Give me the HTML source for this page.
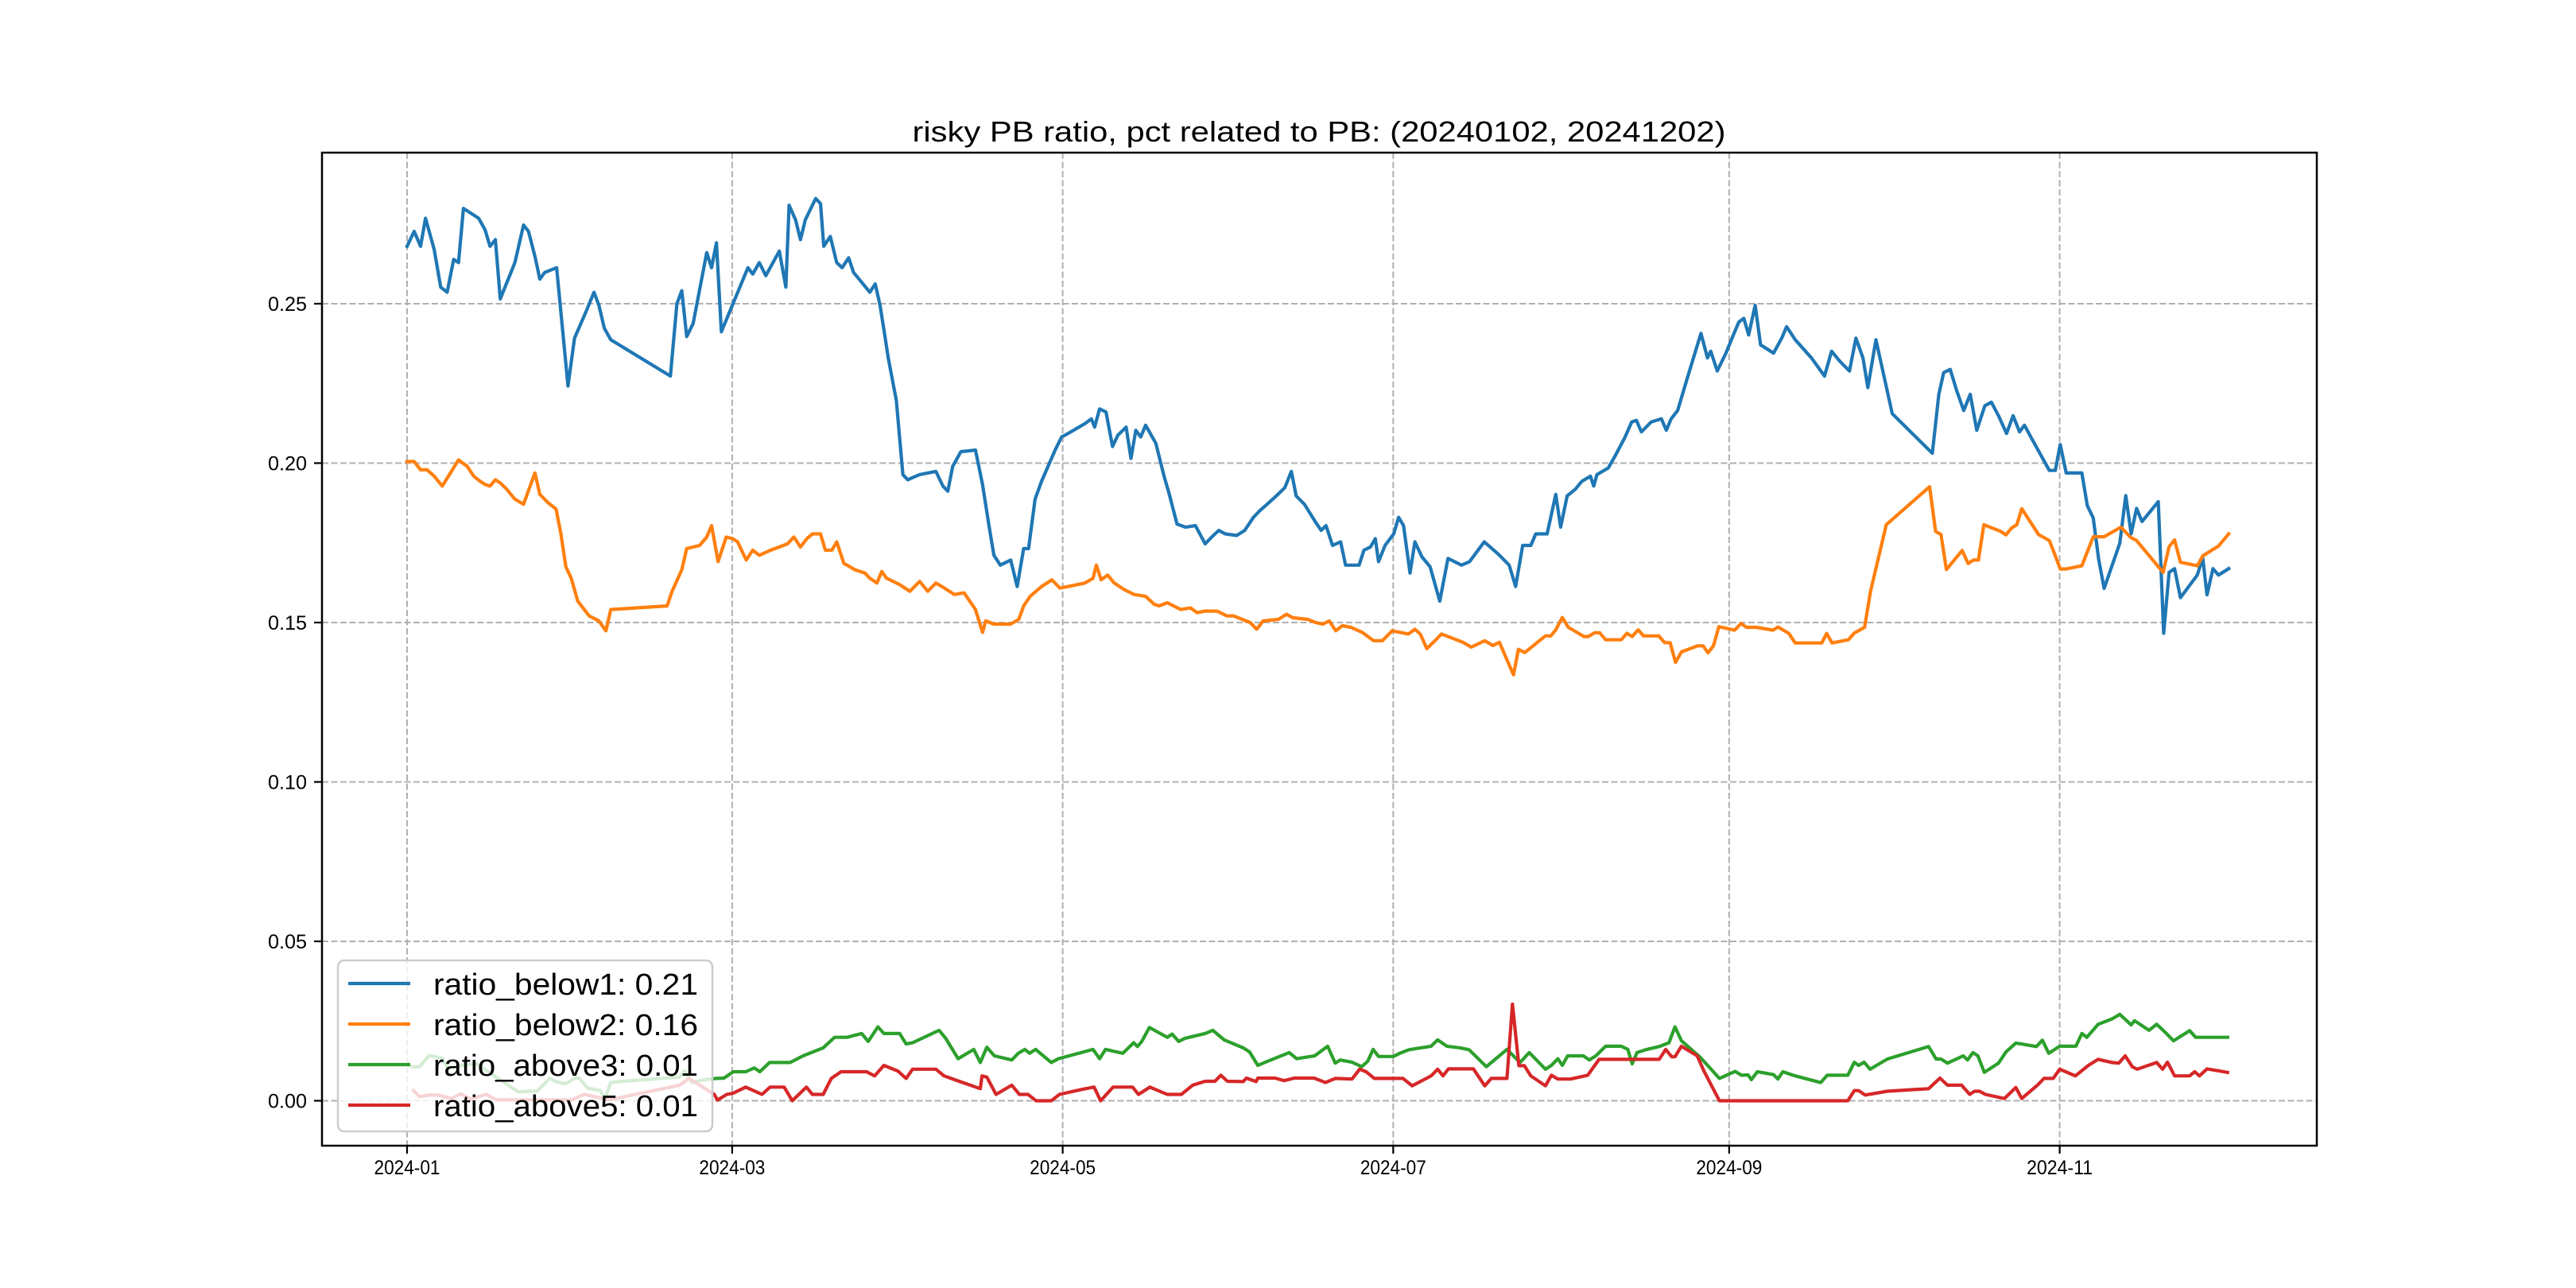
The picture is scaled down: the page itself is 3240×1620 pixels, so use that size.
<!DOCTYPE html>
<html><head><meta charset="utf-8"><style>
html,body{margin:0;padding:0;background:#fff;}
svg{display:block;}
text{font-family:"Liberation Sans","WenQuanYi Zen Hei",sans-serif;fill:#000;}
</style></head><body>
<svg id="chart" width="3240" height="1620" viewBox="0 0 3240 1620" xmlns="http://www.w3.org/2000/svg">
<rect x="0" y="0" width="3240" height="1620" fill="#fff"/>
<g id="grid"></g>
<g id="series"></g>
<rect x="405" y="192" width="2509" height="1249" fill="none" stroke="#000" stroke-width="2.5"/>
<g id="xticks"></g>
<g id="yticks"></g>
<text x="1659" y="178" font-size="36" text-anchor="middle" textLength="1023" lengthAdjust="spacingAndGlyphs">risky PB ratio, pct related to PB: (20240102, 20241202)</text>
<g id="legend"></g>
</svg>
<script>
const xTickDays=[0,60,121,182,244,305];
const xTickLabels=["2024-01","2024-03","2024-05","2024-07","2024-09","2024-11"];
const yTickVals=[0,0.05,0.10,0.15,0.20,0.25];
const yTickLabels=["0.00","0.05","0.10","0.15","0.20","0.25"];
const seriesNames=["ratio_below1: 0.21","ratio_below2: 0.16","ratio_above3: 0.01","ratio_above5: 0.01"];

const blueDays=[0,1.3,2.5,3.4,5,6.2,7.4,8.6,9.5,10.4,13.2,14.4,15.3,16.3,17.2,19.9,21.5,22.4,23.6,24.5,25.4,27.6,29.7,30.9,33.0,34.5,35.4,36.4,37.6,48.6,49.8,50.7,51.6,52.8,55.3,56.2,57.1,58.0,62.9,63.8,65.0,66.2,68.7,69.9,70.5,71.7,72.6,73.5,75.4,76.3,76.9,78.1,79.3,80.3,81.5,82.4,83.9,85.4,86.4,87.3,88.2,88.8,90.3,91.5,92.4,94.6,97.6,98.9,99.8,100.7,102.2,104.9,106.2,107.4,108.3,109.5,111.4,112.6,113.8,114.7,115.9,117.1,119.6,120.8,122.0,125.1,126.3,126.9,127.8,129.0,130.2,131.2,132.7,133.6,134.5,135.4,136.3,138.2,139.7,140.6,142.1,143.7,145.5,147.3,148.5,149.8,151.0,153.1,154.6,156.2,157.4,160.1,162.0,163.2,164.1,165.6,167.7,168.7,169.6,170.8,172.3,173.2,175.7,176.6,177.8,178.7,179.3,180.5,182.1,183.0,183.9,185.1,186.0,187.3,188.8,190.6,192.1,194.6,196.1,198.8,201.3,203.4,204.6,205.9,207.4,208.3,210.4,212.0,212.9,214.1,215.6,216.8,218.4,219.0,219.6,221.7,222.9,224.8,226.0,226.9,227.8,229.6,231.5,232.4,233.3,234.5,236.3,238.8,240.0,240.6,241.8,243.4,244.9,245.8,246.7,247.6,248.8,249.8,252.2,253.7,254.6,256.2,259.2,261.6,262.9,264.4,266.2,267.4,268.7,269.6,271.1,274.1,281.5,282.7,283.6,284.8,286.0,287.3,288.5,289.7,291.2,292.4,293.7,295.2,296.4,297.6,298.5,299.7,303.1,304.2,305.1,306.2,309.1,310.1,311.2,312.2,313.2,316.1,317.2,318.2,319.2,320.2,323.2,324.2,325.2,326.2,327.3,330.4,331.4,332.2,333.3,334.3,336.2];
const blueVals=[0.2680,0.2727,0.2680,0.2768,0.2670,0.2552,0.2536,0.2639,0.2629,0.2799,0.2768,0.2732,0.2680,0.2701,0.2515,0.2629,0.2747,0.2727,0.2649,0.2577,0.2598,0.2613,0.2242,0.2392,0.2474,0.2536,0.2495,0.2423,0.2387,0.2273,0.2500,0.2541,0.2397,0.2438,0.2660,0.2613,0.2691,0.2412,0.2613,0.2593,0.2629,0.2588,0.2665,0.2552,0.2809,0.2763,0.2701,0.2763,0.2830,0.2814,0.2680,0.2711,0.2629,0.2613,0.2644,0.2598,0.2567,0.2536,0.2562,0.2495,0.2397,0.2330,0.2196,0.1964,0.1948,0.1964,0.1974,0.1928,0.1912,0.1990,0.2036,0.2041,0.1933,0.1804,0.1711,0.1680,0.1696,0.1613,0.1732,0.1732,0.1887,0.1943,0.2041,0.2082,0.2093,0.2124,0.2139,0.2113,0.2170,0.2160,0.2052,0.2088,0.2113,0.2015,0.2103,0.2082,0.2119,0.2062,0.1959,0.1907,0.1809,0.1799,0.1804,0.1747,0.1768,0.1789,0.1778,0.1773,0.1789,0.1830,0.1851,0.1892,0.1923,0.1974,0.1897,0.1871,0.1814,0.1789,0.1804,0.1742,0.1753,0.1680,0.1680,0.1727,0.1737,0.1763,0.1691,0.1742,0.1778,0.1830,0.1804,0.1655,0.1753,0.1706,0.1675,0.1567,0.1701,0.1680,0.1691,0.1753,0.1716,0.1680,0.1613,0.1742,0.1742,0.1778,0.1778,0.1902,0.1799,0.1897,0.1918,0.1943,0.1959,0.1928,0.1964,0.1985,0.2021,0.2082,0.2129,0.2134,0.2098,0.2129,0.2139,0.2103,0.2139,0.2165,0.2268,0.2407,0.2330,0.2351,0.2289,0.2345,0.2407,0.2443,0.2454,0.2402,0.2495,0.2371,0.2345,0.2392,0.2428,0.2387,0.2330,0.2273,0.2351,0.2320,0.2289,0.2392,0.2330,0.2237,0.2387,0.2155,0.2031,0.2216,0.2284,0.2294,0.2227,0.2165,0.2216,0.2103,0.2180,0.2191,0.2149,0.2093,0.2149,0.2098,0.2119,0.2081,0.1977,0.1977,0.2058,0.1969,0.1969,0.1867,0.1828,0.1699,0.1607,0.1749,0.1898,0.1778,0.1858,0.1817,0.1879,0.1466,0.1657,0.1669,0.1578,0.1649,0.1703,0.1587,0.1669,0.1649,0.1669];

const orangeDays=[0,1.3,2.5,3.7,5,6.5,8.0,9.5,11.1,12.3,13.5,14.4,15.3,16.3,17.2,18.4,19.9,21.5,23.6,24.5,26.0,27.5,28.4,29.3,30.3,31.5,33.6,35.4,36.7,37.6,48.0,48.9,50.7,51.6,54.0,55.3,56.2,57.4,58.9,60.1,61.0,62.6,63.8,65.0,67.1,68.7,70.2,71.4,72.6,73.8,74.8,76.3,77.2,78.4,79.3,80.6,82.7,84.5,85.4,86.7,87.6,88.5,90.9,92.8,94.6,96.1,97.6,99.2,101.0,102.8,104.9,106.2,106.8,108.3,111.4,112.9,113.8,115.0,117.1,119.0,120.5,122.0,125.1,126.6,127.2,128.1,129.3,130.5,132.4,134.2,136.3,137.9,138.8,140.3,142.8,144.6,145.8,147.3,149.5,151.3,152.5,155.6,156.8,158.0,160.8,162.3,163.5,166.2,167.7,169.0,170.2,171.4,172.6,174.2,176.3,178.4,180.0,181.8,183.3,184.8,186.0,187.0,188.2,189.7,190.9,193.4,194.9,196.4,198.9,200.4,201.6,204.2,205.1,206.3,210.1,211.1,212.0,213.2,214.3,217.2,218.0,219.2,220.1,221.2,224.1,225.1,226.1,227.2,228.2,231.0,232.1,233.1,234.1,235.2,238.2,239.2,240.1,241.1,242.1,245.0,246.2,247.2,249.0,252.1,253.0,255.0,256.2,261.1,262.0,263.0,266.0,267.1,269.0,270.1,273.0,281.0,282.1,283.1,284.1,287.0,288.1,289.1,290.0,291.0,294.1,295.1,296.1,297.1,298.0,301.1,303.1,304.1,305.1,306.2,309.1,311.2,313.2,316.3,318.1,319.2,324.1,325.2,326.2,327.3,330.4,331.4,334.3,336.2];
const orangeVals=[0.2005,0.2005,0.1979,0.1979,0.1959,0.1928,0.1969,0.2010,0.1990,0.1959,0.1943,0.1933,0.1928,0.1948,0.1938,0.1918,0.1887,0.1871,0.1969,0.1902,0.1876,0.1856,0.1778,0.1675,0.1639,0.1567,0.1521,0.1505,0.1474,0.1541,0.1552,0.1598,0.1665,0.1732,0.1742,0.1768,0.1804,0.1691,0.1768,0.1763,0.1753,0.1696,0.1727,0.1711,0.1727,0.1737,0.1747,0.1768,0.1737,0.1763,0.1778,0.1778,0.1727,0.1727,0.1753,0.1686,0.1665,0.1655,0.1639,0.1624,0.1660,0.1639,0.1619,0.1598,0.1629,0.1598,0.1624,0.1608,0.1588,0.1593,0.1541,0.1469,0.1505,0.1495,0.1495,0.1510,0.1552,0.1582,0.1613,0.1634,0.1608,0.1613,0.1624,0.1639,0.1680,0.1634,0.1649,0.1624,0.1603,0.1588,0.1582,0.1557,0.1552,0.1562,0.1541,0.1546,0.1531,0.1536,0.1536,0.1521,0.1521,0.1500,0.1479,0.1505,0.1510,0.1526,0.1515,0.1510,0.1500,0.1495,0.1505,0.1474,0.1490,0.1485,0.1469,0.1443,0.1443,0.1474,0.1469,0.1464,0.1479,0.1464,0.1418,0.1443,0.1464,0.1448,0.1438,0.1423,0.1443,0.1428,0.1438,0.1336,0.1416,0.1406,0.1458,0.1458,0.1477,0.1516,0.1485,0.1456,0.1456,0.1468,0.1468,0.1446,0.1446,0.1466,0.1456,0.1477,0.1458,0.1458,0.1437,0.1437,0.1375,0.1408,0.1427,0.1427,0.1405,0.1427,0.1487,0.1476,0.1497,0.1485,0.1485,0.1476,0.1486,0.1466,0.1436,0.1436,0.1466,0.1436,0.1446,0.1467,0.1485,0.1598,0.1807,0.1926,0.1786,0.1776,0.1666,0.1726,0.1685,0.1696,0.1696,0.1807,0.1786,0.1775,0.1796,0.1807,0.1857,0.1776,0.1757,0.1714,0.1668,0.1668,0.1678,0.1769,0.1769,0.1799,0.1767,0.1757,0.1657,0.1738,0.1759,0.1689,0.1678,0.1709,0.1740,0.1778];

const greenDays=[0.9,2.3,4.1,6.4,7.6,10.5,12.9,14.6,18.7,20.5,22.4,24.0,26.3,27.5,29.2,31.0,31.8,33.3,35.7,36.5,37.6,39.7,50.3,51.2,52.6,54.9,57.0,58.5,60.2,62.5,64.1,65.1,66.9,70.7,73.1,76.8,78.9,81.2,83.9,85.1,86.9,88.0,90.9,92.1,93.3,98.2,99.4,101.7,104.6,105.8,107.0,108.4,111.6,112.8,114.0,114.9,116.0,118.9,120.2,126.6,127.8,128.9,132.1,134.1,134.8,135.6,137.0,140.3,141.2,142.4,143.6,147.3,148.7,150.8,154.3,155.5,157.0,158.4,162.8,164.2,167.5,169.9,171.3,172.2,174.4,176.2,177.3,178.3,179.3,182.0,183.2,184.9,189.0,190.2,191.9,194.3,196.0,198.4,199.2,203.0,205.4,207.1,210.1,211.2,212.4,213.2,214.2,217.1,218.2,219.4,221.2,224.1,225.3,226.1,227.0,228.8,231.1,232.9,234.0,235.2,238.7,242.2,245.1,246.3,247.5,248.1,249.2,252.2,253.0,253.9,256.2,260.9,262.1,265.9,267.1,267.9,268.9,270.0,273.2,280.8,282.2,283.1,284.3,287.2,288.0,289.0,289.9,291.1,293.7,295.1,296.9,300.7,301.8,303.0,305.0,308.0,309.1,310.0,312.1,314.7,316.1,318.2,318.8,321.5,322.9,324.6,326.0,329.0,330.1,336.0];
const greenVals=[0.0107,0.0107,0.0142,0.0134,0.0103,0.0112,0.0116,0.0095,0.0049,0.0028,0.0030,0.0030,0.0070,0.0060,0.0053,0.0071,0.0070,0.0040,0.0032,0.0007,0.0057,0.0061,0.0074,0.0093,0.0057,0.0066,0.0070,0.0071,0.0091,0.0091,0.0103,0.0091,0.0120,0.0120,0.0141,0.0166,0.0199,0.0199,0.0211,0.0186,0.0232,0.0211,0.0211,0.0178,0.0182,0.0221,0.0196,0.0132,0.0161,0.0120,0.0168,0.0141,0.0128,0.0149,0.0161,0.0149,0.0161,0.0120,0.0132,0.0161,0.0132,0.0161,0.0149,0.0182,0.0170,0.0186,0.0230,0.0199,0.0209,0.0186,0.0196,0.0211,0.0221,0.0191,0.0166,0.0153,0.0111,0.0121,0.0151,0.0132,0.0141,0.0171,0.0118,0.0128,0.0121,0.0107,0.0124,0.0161,0.0139,0.0139,0.0149,0.0160,0.0171,0.0191,0.0171,0.0166,0.0160,0.0120,0.0107,0.0161,0.0120,0.0151,0.0099,0.0111,0.0132,0.0111,0.0141,0.0141,0.0128,0.0141,0.0171,0.0171,0.0161,0.0116,0.0151,0.0161,0.0170,0.0182,0.0232,0.0188,0.0136,0.0070,0.0092,0.0080,0.0081,0.0066,0.0091,0.0082,0.0068,0.0091,0.0078,0.0057,0.0080,0.0080,0.0121,0.0111,0.0121,0.0099,0.0131,0.0170,0.0131,0.0131,0.0118,0.0141,0.0128,0.0151,0.0141,0.0089,0.0118,0.0153,0.0181,0.0170,0.0190,0.0149,0.0171,0.0171,0.0211,0.0199,0.0240,0.0257,0.0271,0.0238,0.0251,0.0221,0.0240,0.0213,0.0188,0.0220,0.0199,0.0199];

const redDays=[1.2,2.3,4.1,5.8,8.2,9.9,11.7,14.6,16.4,30.4,32.7,37.4,42.1,50.3,52.0,56.7,57.3,59.0,60.2,62.5,65.5,67.0,69.6,71.1,73.7,74.8,76.8,78.3,80.1,84.8,86.3,88.0,90.6,92.1,93.3,97.6,99.1,101.9,105.8,106.1,107.0,108.7,111.6,113.0,114.6,116.1,118.9,120.4,124.9,126.8,128.0,130.3,133.9,135.0,137.1,140.3,142.9,145.0,147.3,149.1,150.2,151.4,154.3,154.9,156.7,157.0,160.2,161.9,163.7,167.4,169.5,171.3,174.4,175.8,177.0,178.5,183.8,185.5,189.0,190.2,191.2,192.2,196.8,198.9,200.1,203.0,204.0,205.2,206.2,207.4,210.1,211.2,212.4,214.7,217.9,220.0,231.1,232.3,233.4,234.0,235.2,238.1,239.3,242.2,265.9,267.1,267.9,269.1,273.2,280.8,282.9,284.3,286.9,288.4,289.3,290.2,291.3,294.8,296.9,298.0,300.9,302.1,303.8,305.0,307.9,310.3,312.1,314.7,315.9,317.1,318.4,319.3,322.9,324.0,324.9,326.2,329.0,329.9,330.8,332.2,336.0];
const redVals=[0.0032,0.0013,0.0018,0.0018,0.0007,0.0022,0.0005,0.0020,0.0003,0.0003,0.0020,0.0003,0.0020,0.0049,0.0070,0.0020,0.0002,0.0020,0.0024,0.0043,0.0020,0.0043,0.0043,0.0000,0.0043,0.0020,0.0020,0.0070,0.0091,0.0091,0.0078,0.0111,0.0093,0.0070,0.0099,0.0099,0.0078,0.0061,0.0038,0.0078,0.0074,0.0020,0.0049,0.0020,0.0020,0.0000,0.0000,0.0020,0.0037,0.0043,0.0000,0.0043,0.0043,0.0020,0.0043,0.0020,0.0020,0.0049,0.0061,0.0061,0.0080,0.0061,0.0060,0.0071,0.0060,0.0071,0.0071,0.0063,0.0071,0.0071,0.0057,0.0070,0.0068,0.0099,0.0091,0.0070,0.0070,0.0047,0.0078,0.0099,0.0078,0.0100,0.0100,0.0047,0.0070,0.0070,0.0303,0.0110,0.0110,0.0078,0.0047,0.0080,0.0068,0.0068,0.0080,0.0130,0.0130,0.0161,0.0138,0.0138,0.0171,0.0141,0.0095,0.0000,0.0000,0.0032,0.0032,0.0018,0.0030,0.0038,0.0071,0.0049,0.0049,0.0020,0.0030,0.0030,0.0020,0.0007,0.0042,0.0007,0.0049,0.0070,0.0070,0.0099,0.0078,0.0111,0.0130,0.0120,0.0118,0.0141,0.0107,0.0099,0.0120,0.0099,0.0121,0.0078,0.0078,0.0091,0.0078,0.0100,0.0089];

const colors=["#1f77b4","#ff7f0e","#2ca02c","#d62728"];
const NS="http://www.w3.org/2000/svg";
const X0=405,X1=2914,Y0=192,Y1=1441;
function xScale(d){return 512+d*6.815;}
function yScale(v){return 1384.5-v*4010;}
function mk(tag,attrs,parent){const e=document.createElementNS(NS,tag);for(const k in attrs)e.setAttribute(k,attrs[k]);parent.appendChild(e);return e;}

const grid=document.getElementById('grid');
const xt=document.getElementById('xticks');
const yt=document.getElementById('yticks');
xTickDays.forEach((d,i)=>{
  const x=xScale(d);
  const g=mk('line',{x1:x,x2:x,y1:Y0,y2:Y1,stroke:'#b0b0b0','stroke-width':2,'stroke-dasharray':'8,3.5'},grid);
  
  
  const t=mk('line',{x1:x,x2:x,y1:Y1,y2:Y1+10,stroke:'#000','stroke-width':2.2},xt);
  
  
  const l=mk('text',{x:x,y:1477,'font-size':25,'text-anchor':'middle',textLength:83,lengthAdjust:'spacingAndGlyphs'},xt);
  l.textContent=xTickLabels[i];
  
  
});
yTickVals.forEach((v,i)=>{
  const y=yScale(v);
  const g=mk('line',{x1:X0,x2:X1,y1:y,y2:y,stroke:'#b0b0b0','stroke-width':2,'stroke-dasharray':'8,3.5'},grid);
  
  
  const t=mk('line',{x1:X0-10,x2:X0,y1:y,y2:y,stroke:'#000','stroke-width':2.2},yt);
  
  
  const l=mk('text',{x:386,y:y+9,'font-size':25,'text-anchor':'end',textLength:49,lengthAdjust:'spacingAndGlyphs'},yt);
  l.textContent=yTickLabels[i];
  
  
});

const series=document.getElementById('series');
const allDays=[blueDays,orangeDays,greenDays,redDays];
const allVals=[blueVals,orangeVals,greenVals,redVals];
const seriesKeys=['ratio-below1-line','ratio-below2-line','ratio-above3-line','ratio-above5-line'];
for(let s=0;s<4;s++){
  const ds=allDays[s],vs=allVals[s];
  let pts=[];
  for(let i=0;i<ds.length&&i<vs.length;i++)pts.push(xScale(ds[i]).toFixed(1)+','+yScale(vs[i]).toFixed(1));
  const p=mk('polyline',{points:pts.join(' '),fill:'none',stroke:colors[s],'stroke-width':4.2,'stroke-linejoin':'round','stroke-linecap':'square'},series);
  
  
}

const leg=document.getElementById('legend');
const box=mk('rect',{x:425,y:1208,width:471,height:215,rx:8,ry:8,fill:'#fff','fill-opacity':0.8,stroke:'#cccccc','stroke-width':2.5},leg);


const rowY=[1237,1288,1339,1390];
for(let s=0;s<4;s++){
  const ln=mk('line',{x1:438,x2:516,y1:rowY[s],y2:rowY[s],stroke:colors[s],'stroke-width':4.2},leg);
  
  
  const tx=mk('text',{x:545,y:rowY[s]+14,'font-size':38,textLength:333,lengthAdjust:'spacingAndGlyphs'},leg);
  tx.textContent=seriesNames[s];
  
  
}
</script>
</body></html>
